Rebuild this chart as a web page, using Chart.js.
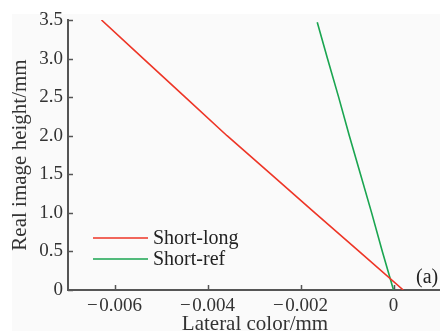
<!DOCTYPE html>
<html>
<head>
<meta charset="utf-8">
<script src="https://cdn.jsdelivr.net/npm/chart.js@4"></script>
<style>
  html, body { margin: 0; padding: 0; background: #fff; }
  #wrap { width: 440px; height: 331px; }
</style>
</head>
<body>
<div id="wrap"><canvas id="myChart" width="440" height="331"></canvas></div>
<script>
// Data
let heights = [0, 0.5, 1.0, 1.5, 2.0, 2.5, 3.0, 3.5];
let shortLong = [0.00021, -0.00074, -0.00169, -0.00263, -0.00358, -0.00448, -0.00538, -0.00628];
let refHeights = [0, 0.5, 1.0, 1.5, 2.0, 2.5, 3.0, 3.47];
let shortRef = [0, -0.00024, -0.00047, -0.00071, -0.00095, -0.00118, -0.00142, -0.00164];
let xTicks = [-0.006, -0.004, -0.002, 0];
let yTicks = [0, 0.5, 1.0, 1.5, 2.0, 2.5, 3.0, 3.5];
let seriesNames = ["Short-long", "Short-ref"];
let seriesColors = ["#ee3526", "#1aa550"];
let xTitle = "Lateral color/mm";
let panelTag = "(a)";

const serif = "'Liberation Serif', 'DejaVu Serif', serif";
const axisColor = "#555";

function toPoints(xs, ys) {
    let pts = [];
    for (let i = 0; i < xs.length; i++) pts.push({ x: xs[i], y: ys[i] });
    return pts;
}

// background, inward ticks, legend, x title and panel tag
const decor = {
    id: 'decor',
    beforeDraw(chart) {
        const c = chart.ctx;
        c.save();
        c.fillStyle = '#fff';
        c.fillRect(0, 0, chart.width, chart.height);
        c.fillStyle = '#fafafa';
        c.fillRect(12, 14, chart.width - 12, chart.height - 14);
        c.restore();
    },
    afterDraw(chart) {
        const c = chart.ctx;
        const xs = chart.scales.x, ys = chart.scales.y;
        const area = chart.chartArea;
        c.save();
        c.strokeStyle = axisColor;
        c.lineWidth = 1.5;
        xTicks.forEach(v => {
            let px = Math.round(xs.getPixelForValue(v)) + 0.5;
            c.beginPath();
            c.moveTo(px, area.bottom);
            c.lineTo(px, area.bottom - 5);
            c.stroke();
        });
        yTicks.forEach(v => {
            let py = Math.round(ys.getPixelForValue(v)) + 0.5;
            c.beginPath();
            c.moveTo(area.left, py);
            c.lineTo(area.left + 5, py);
            c.stroke();
        });

        // legend
        c.font = "20px " + serif;
        c.textBaseline = 'middle';
        c.textAlign = 'left';
        const rows = [238, 259];
        seriesNames.forEach((name, i) => {
            c.strokeStyle = seriesColors[i];
            c.lineWidth = 1.5;
            c.beginPath();
            c.moveTo(93, rows[i]);
            c.lineTo(148, rows[i]);
            c.stroke();
            c.fillStyle = '#222';
            c.fillText(name, 153, rows[i] + 1);
        });

        c.fillText(panelTag, 416, 278);

        // x axis title, partly cut by the bottom edge as in the source
        c.font = "21px " + serif;
        c.fillStyle = '#333';
        c.textAlign = 'center';
        c.textBaseline = 'alphabetic';
        c.fillText(xTitle, 255, 330);
        c.restore();
    }
};

const ctx = document.getElementById('myChart').getContext('2d');

new Chart(ctx, {
    type: 'scatter',
    data: {
        datasets: [{
            label: seriesNames[0],
            data: toPoints(shortLong, heights),
            showLine: true,
            borderColor: seriesColors[0],
            borderWidth: 1.6,
            pointRadius: 0,
            tension: 0
        }, {
            label: seriesNames[1],
            data: toPoints(shortRef, refHeights),
            showLine: true,
            borderColor: seriesColors[1],
            borderWidth: 1.6,
            pointRadius: 0,
            tension: 0
        }]
    },
    options: {
        responsive: false,
        animation: false,
        events: [],
        layout: { padding: { top: 20, right: 0, left: 0, bottom: 0 } },
        plugins: {
            legend: { display: false },
            tooltip: { enabled: false }
        },
        scales: {
            x: {
                type: 'linear',
                min: -0.007,
                max: 0.001,
                afterBuildTicks: s => { s.ticks = xTicks.map(v => ({ value: v })); },
                afterFit: s => { s.height = 41; },
                grid: { display: false, drawTicks: false },
                border: { display: true, color: axisColor, width: 2 },
                ticks: {
                    padding: 5,
                    color: '#333',
                    font: { family: serif, size: 19 },
                    maxRotation: 0,
                    callback: v => v === 0 ? "0" : "\u2212\u200a" + Math.abs(v).toFixed(3)
                },
                title: { display: false }
            },
            y: {
                type: 'linear',
                min: 0,
                max: 3.5,
                afterBuildTicks: s => { s.ticks = yTicks.map(v => ({ value: v })); },
                afterFit: s => { s.width = 68; },
                grid: { display: false, drawTicks: false },
                border: { display: true, color: axisColor, width: 2 },
                ticks: {
                    padding: 5,
                    color: '#333',
                    font: { family: serif, size: 19 },
                    callback: v => v === 0 ? "0" : v.toFixed(1)
                },
                title: {
                    display: true,
                    text: 'Real image height/mm',
                    color: '#333',
                    font: { family: serif, size: 21 },
                    padding: { top: 8, bottom: 0 }
                }
            }
        }
    },
    plugins: [decor]
});
</script>
</body>
</html>
